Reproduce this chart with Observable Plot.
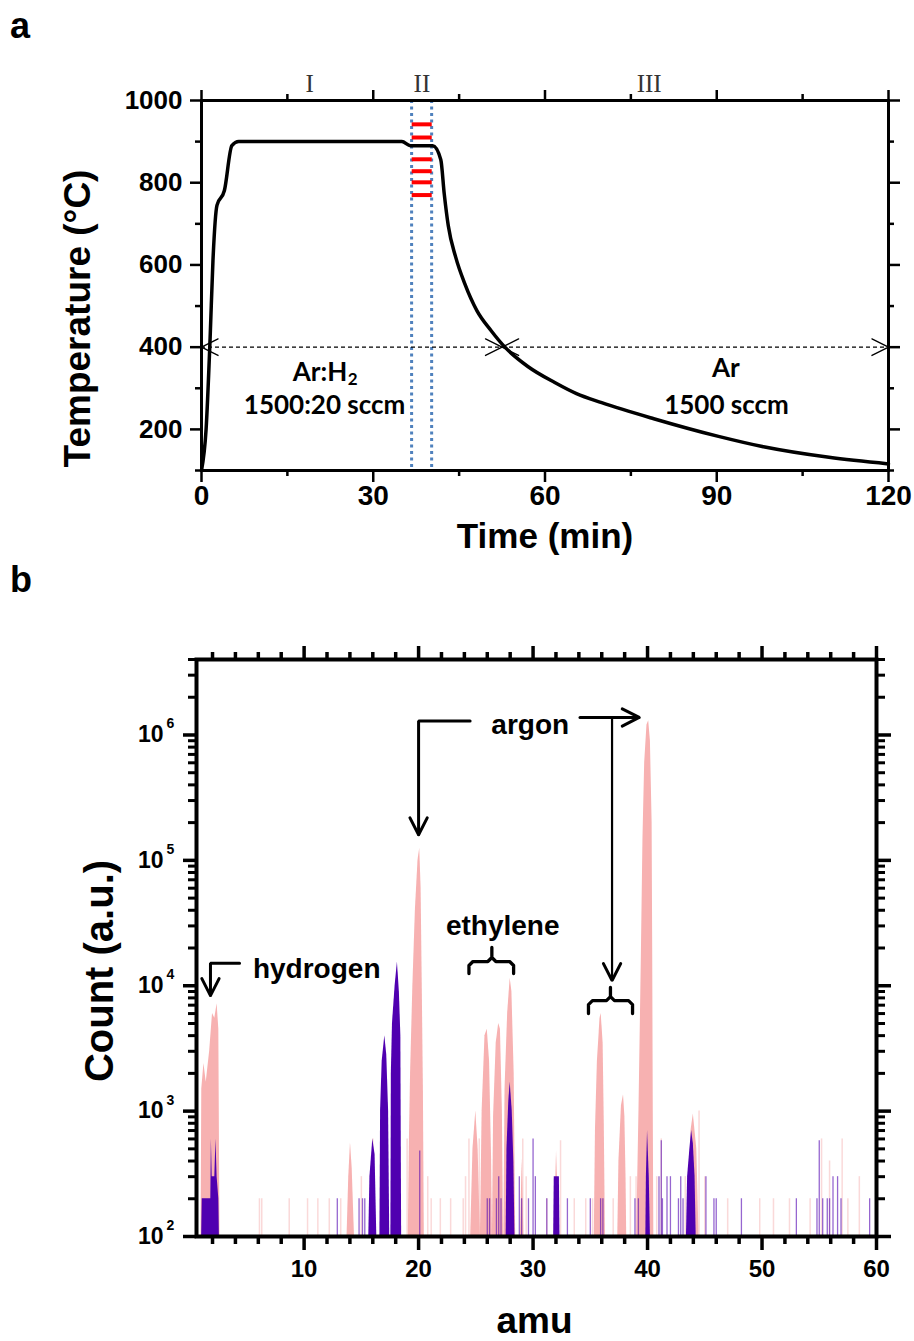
<!DOCTYPE html>
<html><head><meta charset="utf-8">
<script src="https://cdn.jsdelivr.net/npm/d3@7"></script>
<script src="https://cdn.jsdelivr.net/npm/@observablehq/plot@0.6"></script>
<style>
body{margin:0;background:#fff;}
#wrap{position:relative;width:914px;height:1341px;overflow:hidden;font-family:"Liberation Sans",Arial,sans-serif;}
.panel{position:absolute;left:0;}
.lab{position:absolute;font-weight:bold;font-size:36px;line-height:1;}
</style></head><body>
<div id="wrap">
<div id="top" class="panel" style="top:0"></div>
<div id="bot" class="panel" style="top:560px"></div>
<div class="lab" style="left:10px;top:8px">a</div>
<div class="lab" style="left:10px;top:562px">b</div>
</div>
<script>
// ---------- panel a : temperature profile ----------
const timeMin = [0,0.8,1.5,2.0,2.7,4.0,5.3,6.5,35,36.5,40.4,41.8,42.4,43.1,44.4,46.0,48.1,50.6,53.0,57.0,61.7,65.5,69.9,79.0,90.3,98.4,109.6,120];
const tempC   = [100,200,420,610,745,781,890,900,900,890,890,856,773,696,619,554,489,440,400,353,314,287,265,226,183,157,132,116];
const phaseNames = ["I","II","III"];
const phaseTime = [18.9, 38.5, 78.2];
const windowTime = [36.7, 40.2];                  // dotted blue lines
const sampleTemp = [942, 910, 857, 828, 801, 770]; // red sampling marks
const flowTips = [0, 52.5, 52.5, 120];            // arrow tips on the 400 °C line
const flowDirs = [180, 0, 180, 0];
const flowTemp = 400;
const flowText = ["Ar:H", "2", "1500:20 sccm", "Ar", "1500 sccm"];
const flowTextTime = [20.7, 26.4, 21.5, 91.6, 91.7];
const flowTextTemp = [339, 321, 258, 348, 258];
const tMajorX = [0,30,60,90,120], tMinorX = [15,45,75,105];
const tMajorY = [200,400,600,800,1000], tMinorY = [100,300,500,700,900];

// ---------- panel b : mass spectrum ----------
// reference scan (pink) peak profiles [amu, count]
const pinkH2  = [[1.0,100],[1.06,1500],[1.25,2400],[1.45,1700],[1.75,3000],[2.0,6000],[2.2,5500],[2.4,7200],[2.55,4500],[2.65,100]];
const pink14  = [[13.75,100],[13.9,300],[14.05,560],[14.2,350],[14.4,100]];
const pink20  = [[19.1,100],[19.2,600],[19.3,2000],[19.5,10000],[19.72,40000],[19.95,100000],[20.1,125000],[20.22,60000],[20.32,10000],[20.42,1500],[20.5,100]];
const pink25  = [[24.55,100],[24.75,500],[25.0,1000],[25.2,500],[25.4,100]];
const pink26  = [[25.4,100],[25.55,1000],[25.8,4000],[26.0,4500],[26.2,2500],[26.38,400],[26.45,100]];
const pink27  = [[26.45,100],[26.55,900],[26.78,3500],[27.0,5000],[27.15,4500],[27.32,1000],[27.42,100]];
const pink28  = [[27.45,100],[27.55,1500],[27.78,6000],[28.0,11500],[28.15,9000],[28.35,2000],[28.48,100]];
const pink29  = [[28.9,100],[29.05,420],[29.2,100]];
const pink32  = [[31.85,100],[32.05,480],[32.3,100]];
const pink36  = [[35.35,100],[35.45,700],[35.62,2500],[35.85,5500],[35.95,6000],[36.12,3500],[36.22,800],[36.32,100]];
const pink38  = [[37.4,100],[37.5,400],[37.72,1100],[37.9,1350],[38.02,900],[38.12,300],[38.18,100]];
const pink40  = [[39.05,100],[39.25,1000],[39.45,15000],[39.6,150000],[39.75,600000],[39.95,1200000],[40.1,1300000],[40.25,900000],[40.4,200000],[40.45,20000],[40.5,1000],[40.55,100]];
const pink44  = [[43.5,100],[43.8,700],[44.0,950],[44.3,500],[44.5,100]];
// growth scan (purple) peak profiles [amu, count]
const purpH2  = [[1.05,100],[1.1,200],[1.85,200],[1.9,600],[1.97,300],[2.2,300],[2.3,600],[2.4,300],[2.55,200],[2.6,100]];
const purp16  = [[15.65,100],[15.75,300],[16.0,600],[16.2,450],[16.35,100]];
const purp17  = [[16.62,100],[16.68,1000],[16.82,2500],[17.05,4000],[17.22,2800],[17.38,1000],[17.48,100]];
const purp18  = [[17.58,100],[17.62,2000],[17.72,5000],[17.95,10000],[18.15,15500],[18.32,9000],[18.45,4000],[18.52,100]];
const purp28  = [[27.65,100],[27.72,500],[27.88,1200],[28.0,1700],[28.18,1000],[28.32,400],[28.42,100]];
const purp32  = [[31.8,100],[31.85,300],[32.3,300],[32.35,100]];
const purp40  = [[39.85,100],[39.9,300],[40.0,700],[40.15,300],[40.25,100]];
const purp44  = [[43.4,100],[43.5,300],[43.7,500],[43.85,700],[44.0,550],[44.15,300],[44.25,100]];
// single-channel noise counts
const noisePurpleAmu = [12.9,14.8,15.1,15.3,20.1,26.0,26.2,26.8,27.0,27.2,28.8,29.0,29.6,30.0,30.2,31.2,33.0,35.0,35.9,36.1,38.9,39.2,41.0,41.2,41.3,41.7,42.0,42.7,42.9,43.1,45.1,45.8,46.0,48.2,53.0,54.8,55.0,55.3,55.7,55.9,56.2,56.6,56.9,59.4];
const noisePurpleCount = [200,200,200,200,480,200,200,200,300,200,300,200,200,600,300,200,200,200,200,200,200,200,300,580,200,300,300,200,300,200,300,200,200,200,200,200,580,200,200,200,300,300,200,200];
const noisePinkAmu = [6.1,6.3,8.7,10.3,11.2,12.2,13.2,15.0,16.0,19.0,19.3,20.8,21.1,21.9,22.8,23.9,24.1,24.4,25.3,29.1,29.4,31.2,32.4,33.6,34.6,35.2,37.0,38.5,39.0,40.8,41.2,43.3,44.5,45.0,47.0,49.8,51.0,52.4,54.2,55.2,55.9,57.0,57.5,58.5];
const noisePinkCount = [200,200,200,200,200,200,200,300,600,600,300,300,200,200,200,200,300,600,600,600,300,200,580,200,200,200,200,300,300,300,600,300,1000,300,200,200,200,200,200,600,400,600,200,300];
// annotations (read positions in amu / count)
const labelText = ["hydrogen","argon","ethylene"];
const labelAmu = [11.1, 29.75, 27.35];
const labelCount = [13700, 1.21e6, 30200];
const hydrogenPath = [[4.36,15100],[1.82,15100],[1.82,8350]];
const argonLeftPath = [[24.5,1.29e6],[20.0,1.29e6],[20.0,1.6e5]];
const argonRightPath = [[34.1,1.38e6],[39.27,1.38e6]];
const argonDownPath = [[36.9,1.38e6],[36.9,1.1e4]];
const braceAmu = [[24.4,26.4,28.3],[34.84,36.76,38.69]];
const braceCount = [[12500,15600,20200],[6000,7620,9680]]; // ends, bar, nub
const bMajorX = [10,20,30,40,50,60];
const bMinorX = d3.range(2,60,2).filter(v => v % 10 !== 0);
const bExp = [2,3,4,5,6];
const bMinorY = bExp.flatMap(e => d3.range(2,10).map(m => m * 10 ** e)).filter(v => v <= 4e6);

const pink = "#f7b1b1", purple = "#5000b0", blue = "#4f81bd";
const font = "'Liberation Sans', Arial, sans-serif";

// ================= panel a =================
{
  const W = 914, H = 560, mL = 201, mR = 26, mT = 100, mB = 90;
  const sx = d3.scaleLinear([0,120],[mL, W - mR]);
  const sy = d3.scaleLinear([100,1000],[H - mB, mT]);
  const curve = timeMin.map((t,i) => ({t, T: tempC[i]}));
  const heads = [];
  flowTips.forEach((t,k) => {
    const px = sx(t), py = sy(flowTemp), a = flowDirs[k]*Math.PI/180, h = 26.6*Math.PI/180, L = 18.5;
    [a - h, null, a + h].forEach(ang => {
      if (ang === null) heads.push({k, x: t, y: flowTemp});
      else heads.push({k, x: sx.invert(px - L*Math.cos(ang)), y: sy.invert(py - L*Math.sin(ang))});
    });
  });
  const axOpts = {fontSize: 26, fontWeight: "bold", fontFamily: font, strokeWidth: 2.5};
  const p = Plot.plot({
    width: W, height: H, marginLeft: mL, marginRight: mR, marginTop: mT, marginBottom: mB,
    style: {fontFamily: font, fontWeight: "bold", color: "black", background: "white"},
    x: {domain: [0,120]}, y: {domain: [100,1000]},
    marks: [
      Plot.ruleX(windowTime, {x: d => d, stroke: blue, strokeWidth: 3, strokeDasharray: "3,3.5"}),
      Plot.ruleY(sampleTemp, {y: d => d, x1: () => windowTime[0] + 0.1, x2: () => windowTime[1] + 0.1, stroke: "#ff0000", strokeWidth: 4}),
      Plot.ruleY([flowTemp], {x1: () => 0, x2: () => 120, stroke: "black", strokeWidth: 1.2, strokeDasharray: "4,3"}),
      Plot.line(heads, {x: "x", y: "y", z: "k", stroke: "black", strokeWidth: 1.3}),
      Plot.line(curve, {x: "t", y: "T", stroke: "black", strokeWidth: 3.5, curve: "monotone-x", strokeLinejoin: "round"}),
      Plot.text(phaseNames, {x: (d,i) => phaseTime[i], frameAnchor: "top", dy: -17, text: d => d, fontFamily: "'Liberation Serif', 'Times New Roman', serif", fontWeight: "normal", fontSize: 25, fill: "#333", lineAnchor: "middle"}),
      Plot.text(flowText, {x: (d,i) => flowTextTime[i], y: (d,i) => flowTextTemp[i], text: d => d, fontFamily: "Lato, 'Liberation Sans', sans-serif", fontWeight: "bold", fontSize: (d,i) => i === 1 ? 17 : 26, lineAnchor: "middle"}),
      Plot.frame({strokeWidth: 3}),
      Plot.axisX({ticks: tMajorX, tickSize: 12, tickPadding: 3, label: null, ...axOpts, fontSize: 28}),
      Plot.axisX({ticks: tMinorX, tickSize: 6, tickFormat: () => "", label: null, strokeWidth: 2.5}),
      Plot.axisX({anchor: "top", ticks: tMajorX, tickSize: 11, tickFormat: () => "", label: null, strokeWidth: 2.5}),
      Plot.axisX({anchor: "top", ticks: tMinorX, tickSize: 7, tickFormat: () => "", label: null, strokeWidth: 2.5}),
      Plot.axisY({ticks: tMajorY, tickSize: 11, tickPadding: 8, tickFormat: d => String(d), label: null, ...axOpts}),
      Plot.axisY({ticks: tMinorY, tickSize: 6, tickFormat: () => "", label: null, strokeWidth: 2.5}),
      Plot.axisY({anchor: "right", ticks: tMajorY, tickSize: 11, tickFormat: () => "", label: null, strokeWidth: 2.5}),
      Plot.axisY({anchor: "right", ticks: tMinorY, tickSize: 5, tickFormat: () => "", label: null, strokeWidth: 2.5}),
      Plot.text(["Time (min)"], {frameAnchor: "bottom", dy: 66, text: d => d, fontFamily: font, fontSize: 35, fontWeight: "bold", lineAnchor: "middle"}),
      Plot.text(["Temperature (°C)"], {frameAnchor: "left", dx: -123, dy: 33, rotate: -90, textAnchor: "middle", text: d => d, fontFamily: font, fontSize: 37, fontWeight: "bold", lineAnchor: "middle"})
    ]
  });
  document.getElementById("top").append(p);
}

// ================= panel b =================
{
  const W = 914, H = 781, mL = 196, mR = 38, mT = 99, mB = 105;
  const sx = d3.scaleLinear([0.6,60],[mL, W - mR]);
  const sy = d3.scaleLog([100,4e6],[H - mB, mT]);
  const rows = (list, names) => list.flatMap((pk, k) => pk.map(([amu, count]) => ({peak: names + k, amu, count})));
  const pinkRows = rows([pinkH2,pink14,pink20,pink25,pink26,pink27,pink28,pink29,pink32,pink36,pink38,pink40,pink44], "p");
  const purpRows = rows([purpH2,purp16,purp17,purp18,purp28,purp32,purp40,purp44], "q");
  const paths = [hydrogenPath, argonLeftPath, argonRightPath, argonDownPath];
  const pathRows = paths.flatMap((pth, k) => pth.map(([amu, count]) => ({k, amu, count, w: k === 3 ? 2.2 : 3})));
  const heads = [];
  paths.forEach((pth, k) => {
    const [a0, b0] = pth[pth.length - 2], [a1, b1] = pth[pth.length - 1];
    const px = sx(a1), py = sy(b1), ang = Math.atan2(py - sy(b0), px - sx(a0)), h = 27*Math.PI/180, L = 19;
    heads.push({k, amu: sx.invert(px - L*Math.cos(ang - h)), count: sy.invert(py - L*Math.sin(ang - h))});
    heads.push({k, amu: a1, count: b1});
    heads.push({k, amu: sx.invert(px - L*Math.cos(ang + h)), count: sy.invert(py - L*Math.sin(ang + h))});
  });
  const braces = [];
  braceAmu.forEach(([x1, xc, x2], k) => {
    const [cEnd, cBar, cNub] = braceCount[k];
    const X1 = sx(x1), XC = sx(xc), X2 = sx(x2), YE = sy(cEnd), YB = sy(cBar), YN = sy(cNub), r = 4;
    [[X1,YE],[X1,YB+r],[X1+r,YB],[XC-r,YB],[XC,YB-r],[XC,YN],[XC,YB-r],[XC+r,YB],[X2-r,YB],[X2,YB+r],[X2,YE]]
      .forEach(([X,Y]) => braces.push({k, amu: sx.invert(X), count: sy.invert(Y)}));
  });
  const sw = 3.5;
  const p = Plot.plot({
    width: W, height: H, marginLeft: mL, marginRight: mR, marginTop: mT, marginBottom: mB,
    style: {fontFamily: font, fontWeight: "bold", color: "black", background: "white"},
    x: {domain: [0.6,60]}, y: {type: "log", domain: [100,4e6]},
    marks: [
      Plot.ruleX(noisePinkAmu, {x: d => d, y1: () => 100, y2: (d,i) => noisePinkCount[i], stroke: "#f08080", strokeOpacity: 0.3, strokeWidth: 1.5}),
      Plot.areaY(pinkRows, {x: "amu", y1: () => 100, y2: "count", z: "peak", fill: pink, curve: "linear"}),
      Plot.ruleX(noisePurpleAmu, {x: d => d, y1: () => 100, y2: (d,i) => noisePurpleCount[i], stroke: purple, strokeOpacity: 0.6, strokeWidth: 1.3}),
      Plot.areaY(purpRows, {x: "amu", y1: () => 100, y2: "count", z: "peak", fill: purple, curve: "linear"}),
      Plot.line(pathRows, {x: "amu", y: "count", z: "k", stroke: "black", strokeWidth: "w", strokeLinejoin: "miter"}),
      Plot.line(heads, {x: "amu", y: "count", z: "k", stroke: "black", strokeWidth: 3, strokeLinejoin: "miter"}),
      Plot.line(braces, {x: "amu", y: "count", z: "k", stroke: "black", strokeWidth: 3.3, strokeLinejoin: "round"}),
      Plot.text(labelText, {x: (d,i) => labelAmu[i], y: (d,i) => labelCount[i], text: d => d, fontFamily: font, fontSize: 28, fontWeight: "bold", lineAnchor: "middle"}),
      Plot.frame({strokeWidth: 4}),
      Plot.axisX({ticks: bMajorX, tickSize: 14, tickPadding: 9, label: null, fontFamily: font, fontSize: 24, fontWeight: "bold", strokeWidth: sw}),
      Plot.axisX({ticks: bMinorX, tickSize: 8, tickFormat: () => "", label: null, strokeWidth: sw}),
      Plot.axisX({anchor: "top", ticks: bMajorX, tickSize: 14, tickFormat: () => "", label: null, strokeWidth: sw}),
      Plot.axisX({anchor: "top", ticks: bMinorX, tickSize: 8, tickFormat: () => "", label: null, strokeWidth: sw}),
      Plot.axisY({ticks: bExp.map(e => 10 ** e), tickSize: 13, tickPadding: 20, tickFormat: () => "10", label: null, fontFamily: font, fontSize: 23, fontWeight: "bold", strokeWidth: sw}),
      Plot.axisY({ticks: bMinorY, tickSize: 8, tickFormat: () => "", label: null, strokeWidth: 3}),
      Plot.axisY({anchor: "right", ticks: bExp.map(e => 10 ** e), tickSize: 14, tickFormat: () => "", label: null, strokeWidth: sw}),
      Plot.axisY({anchor: "right", ticks: bMinorY, tickSize: 8, tickFormat: () => "", label: null, strokeWidth: 3}),
      Plot.text(bExp, {y: d => 10 ** d, frameAnchor: "left", dx: -30, dy: -11, textAnchor: "start", text: d => String(d), fontFamily: font, fontSize: 14, fontWeight: "bold", lineAnchor: "middle"}),
      Plot.text(["amu"], {frameAnchor: "bottom", dx: -2, dy: 85, text: d => d, fontFamily: font, fontSize: 37, fontWeight: "bold", lineAnchor: "middle"}),
      Plot.text(["Count (a.u.)"], {frameAnchor: "left", dx: -96, dy: 23, rotate: -90, textAnchor: "middle", text: d => d, fontFamily: font, fontSize: 40, fontWeight: "bold", lineAnchor: "middle"})
    ]
  });
  document.getElementById("bot").append(p);
}
</script>
</body></html>
